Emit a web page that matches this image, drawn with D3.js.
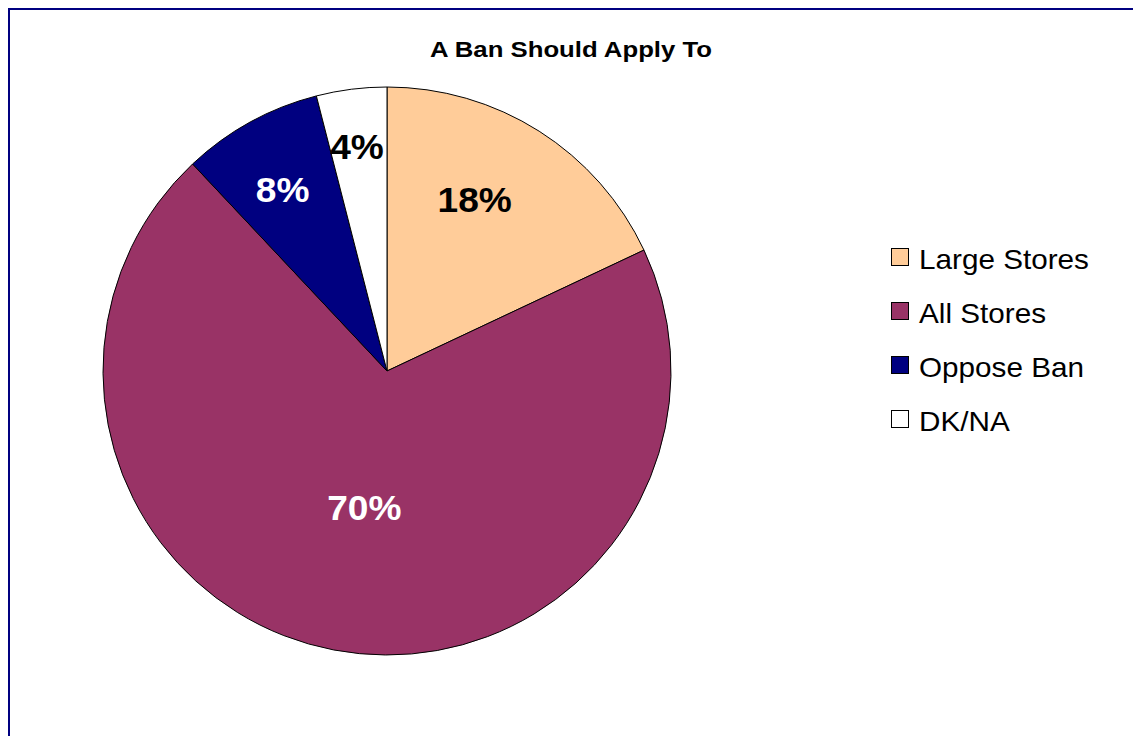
<!DOCTYPE html>
<html>
<head>
<meta charset="utf-8">
<script src="https://cdn.jsdelivr.net/npm/d3@7"></script>
<style>
  html, body { margin: 0; padding: 0; background: #fff; }
  svg { display: block; font-family: "Liberation Sans", Arial, sans-serif; }
</style>
</head>
<body>
<svg id="chart" width="1133" height="736"></svg>
<script>
// ---- Data ----
const title = "A Ban Should Apply To";
const categories = ["Large Stores", "All Stores", "Oppose Ban", "DK/NA"];
const values = [18, 70, 8, 4];
const colors = ["#FFCC99", "#993366", "#000080", "#FFFFFF"];
const labelColors = ["#000000", "#FFFFFF", "#FFFFFF", "#000000"];

// ---- Layout (not data) ----
const W = 1133, H = 736;
const cx = 387, cy = 371, R = 284;
// per-slice label placement: [radius fraction, angle offset in degrees]
const labelPlacement = [[0.68, -5.4], [0.485, -1.3], [0.74, -1.0], [0.80, -0.4]];
const labelStretch = 1.06, legendStretch = 1.06;

const svg = d3.select("#chart");

function stretch(sel, f) {
  sel.each(function () {
    const len = this.getComputedTextLength();
    d3.select(this).attr("textLength", len * f).attr("lengthAdjust", "spacingAndGlyphs");
  });
}

// frame
svg.append("rect")
  .attr("x", 9).attr("y", 9)
  .attr("width", W + 20).attr("height", H + 20)
  .attr("fill", "#fff")
  .attr("stroke", "#000080")
  .attr("stroke-width", 2);

// title
svg.append("text")
  .attr("x", 571).attr("y", 57)
  .attr("text-anchor", "middle")
  .attr("font-size", 21.5)
  .attr("font-weight", "bold")
  .attr("textLength", 282)
  .attr("lengthAdjust", "spacingAndGlyphs")
  .attr("fill", "#000")
  .text(title);

// pie
const pie = d3.pie().sort(null).value(d => d);
const arcs = pie(values);
const arc = d3.arc().innerRadius(0).outerRadius(R);

const g = svg.append("g").attr("transform", `translate(${cx},${cy})`);
g.selectAll("path.slice")
  .data(arcs)
  .enter().append("path")
  .attr("class", "slice")
  .attr("d", arc)
  .attr("fill", (d, i) => colors[i])
  .attr("stroke", "#000")
  .attr("stroke-width", 1);

// labels
const lbls = g.selectAll("text.lbl")
  .data(arcs)
  .enter().append("text")
  .attr("class", "lbl")
  .attr("transform", (d, i) => {
    const [rf, off] = labelPlacement[i];
    const a = (d.startAngle + d.endAngle) / 2 + off * Math.PI / 180;
    const r = rf * R;
    return `translate(${r * Math.sin(a)},${-r * Math.cos(a)})`;
  })
  .attr("text-anchor", "middle")
  .attr("dy", "0.37em")
  .attr("font-size", 35)
  .attr("font-weight", "bold")
  .attr("fill", (d, i) => labelColors[i])
  .text(d => d.data + "%");
stretch(lbls, labelStretch);

// legend
const leg = svg.append("g").attr("transform", "translate(891,0)");
const rowY = d3.scalePoint().domain(categories).range([269, 431]);
const items = leg.selectAll("g.item")
  .data(categories)
  .enter().append("g")
  .attr("class", "item")
  .attr("transform", d => `translate(0,${rowY(d)})`);
items.append("rect")
  .attr("x", 0.5).attr("y", -20.5)
  .attr("width", 17).attr("height", 17)
  .attr("fill", (d, i) => colors[i])
  .attr("stroke", "#000")
  .attr("stroke-width", 1);
const legTexts = items.append("text")
  .attr("x", 28).attr("y", 0)
  .attr("font-size", 28)
  .attr("fill", "#000")
  .text(d => d);
stretch(legTexts, legendStretch);
</script>
</body>
</html>
